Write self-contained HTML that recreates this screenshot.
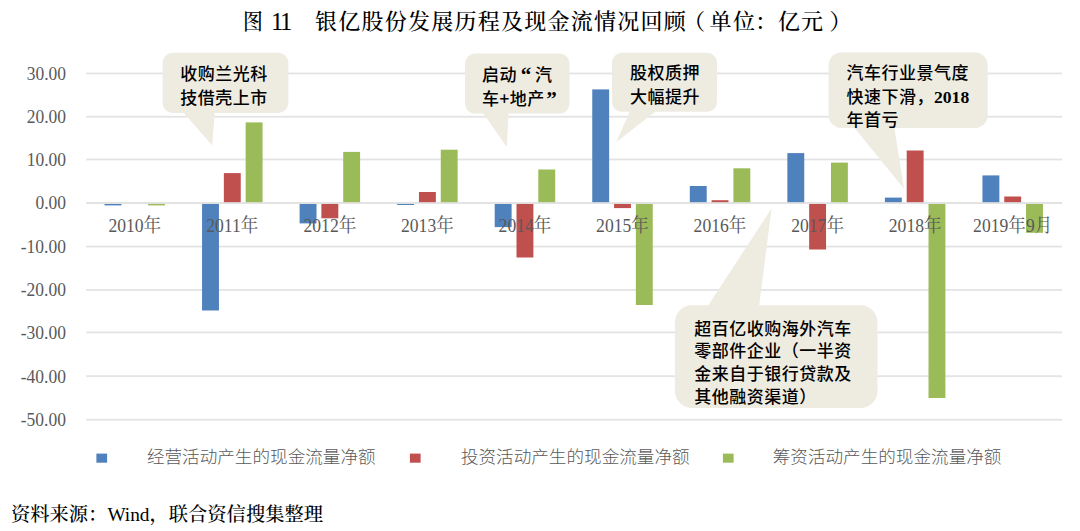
<!DOCTYPE html>
<html><head><meta charset="utf-8"><title>银亿股份发展历程及现金流情况回顾</title>
<style>
html,body{margin:0;padding:0;background:#fff;}
body{width:1080px;height:531px;overflow:hidden;position:relative;}
.t{position:absolute;white-space:nowrap;line-height:1;}
.serif{font-family:"Liberation Serif","Noto Serif CJK SC",serif;}
.title{font-family:"Liberation Serif","Noto Serif CJK SC",serif;font-size:22px;color:#000;font-weight:500;}
.yl{font-family:"Liberation Serif","Noto Serif CJK SC",serif;font-size:17.5px;color:#595959;text-align:right;width:60px;transform:scaleY(1.07);transform-origin:50% 50%;}
.xl{font-family:"Liberation Serif","Noto Serif CJK SC",serif;font-size:17.6px;color:#595959;text-align:center;width:100px;transform:scaleY(1.07);transform-origin:50% 50%;}
.lg{font-family:"Noto Sans CJK SC",sans-serif;font-weight:300;font-size:17.6px;color:#595959;}
.co{font-family:"Noto Sans CJK SC",sans-serif;font-weight:500;font-size:17px;letter-spacing:0.5px;color:#000;}
.co .q{font-family:"Liberation Serif",serif;font-weight:bold;font-size:21px;display:inline-block;width:17.9px;text-align:center;letter-spacing:0;vertical-align:top;line-height:1;}
.co .n{font-family:"Liberation Serif",serif;letter-spacing:0;font-size:17.6px;font-weight:bold;position:relative;top:0.5px;}
.src{font-family:"Liberation Serif","Noto Serif CJK SC",serif;font-size:19.3px;color:#000;font-weight:500;}
</style></head><body>

<svg width="1080" height="531" style="position:absolute;left:0;top:0">
<rect x="86.20" y="72.56" width="975.90" height="1.8" fill="#e3e3e3"/>
<rect x="86.20" y="115.85" width="975.90" height="1.8" fill="#e3e3e3"/>
<rect x="86.20" y="158.59" width="975.90" height="1.8" fill="#e3e3e3"/>
<rect x="86.20" y="202.17" width="975.90" height="1.8" fill="#e3e3e3"/>
<rect x="86.20" y="245.65" width="975.90" height="1.8" fill="#e3e3e3"/>
<rect x="86.20" y="289.00" width="975.90" height="1.8" fill="#e3e3e3"/>
<rect x="86.20" y="331.50" width="975.90" height="1.8" fill="#e3e3e3"/>
<rect x="86.20" y="375.30" width="975.90" height="1.8" fill="#e3e3e3"/>
<rect x="86.20" y="418.80" width="975.90" height="1.8" fill="#e3e3e3"/>
<rect x="104.50" y="203.40" width="16.90" height="2.00" fill="#4F81BD"/>
<rect x="148.10" y="203.40" width="16.90" height="2.00" fill="#9BBB59"/>
<rect x="202.05" y="203.10" width="16.90" height="107.40" fill="#4F81BD"/>
<rect x="223.85" y="173.10" width="16.90" height="30.00" fill="#C0504D"/>
<rect x="245.65" y="122.40" width="16.90" height="80.70" fill="#9BBB59"/>
<rect x="299.60" y="203.10" width="16.90" height="20.30" fill="#4F81BD"/>
<rect x="321.40" y="203.10" width="16.90" height="15.20" fill="#C0504D"/>
<rect x="343.20" y="151.90" width="16.90" height="51.20" fill="#9BBB59"/>
<rect x="397.15" y="203.10" width="16.90" height="1.90" fill="#4F81BD"/>
<rect x="418.95" y="192.00" width="16.90" height="11.10" fill="#C0504D"/>
<rect x="440.75" y="149.70" width="16.90" height="53.40" fill="#9BBB59"/>
<rect x="494.70" y="203.10" width="16.90" height="24.00" fill="#4F81BD"/>
<rect x="516.50" y="203.10" width="16.90" height="54.40" fill="#C0504D"/>
<rect x="538.30" y="169.50" width="16.90" height="33.60" fill="#9BBB59"/>
<rect x="592.25" y="89.40" width="16.90" height="113.70" fill="#4F81BD"/>
<rect x="614.05" y="203.10" width="16.90" height="5.00" fill="#C0504D"/>
<rect x="635.85" y="203.10" width="16.90" height="101.90" fill="#9BBB59"/>
<rect x="689.80" y="186.00" width="16.90" height="17.10" fill="#4F81BD"/>
<rect x="711.60" y="200.20" width="16.90" height="2.90" fill="#C0504D"/>
<rect x="733.40" y="168.30" width="16.90" height="34.80" fill="#9BBB59"/>
<rect x="787.35" y="153.10" width="16.90" height="50.00" fill="#4F81BD"/>
<rect x="809.15" y="203.10" width="16.90" height="46.40" fill="#C0504D"/>
<rect x="830.95" y="162.60" width="16.90" height="40.50" fill="#9BBB59"/>
<rect x="884.90" y="197.60" width="16.90" height="5.50" fill="#4F81BD"/>
<rect x="906.70" y="150.50" width="16.90" height="52.60" fill="#C0504D"/>
<rect x="928.50" y="203.10" width="16.90" height="194.90" fill="#9BBB59"/>
<rect x="982.45" y="175.40" width="16.90" height="27.70" fill="#4F81BD"/>
<rect x="1004.25" y="196.50" width="16.90" height="6.60" fill="#C0504D"/>
<rect x="1026.05" y="203.10" width="16.90" height="29.70" fill="#9BBB59"/>
<path d="M172.63,52.70 L278.37,52.70 A10.033333333333333,10.033333333333333 0 0 1 288.40,62.73 L288.40,102.87 A10.033333333333333,10.033333333333333 0 0 1 278.37,112.90 L214.70,112.90 L212.20,145.60 L183.80,112.90 L172.63,112.90 A10.033333333333333,10.033333333333333 0 0 1 162.60,102.87 L162.60,62.73 A10.033333333333333,10.033333333333333 0 0 1 172.63,52.70 Z" fill="#EEECE1"/>
<path d="M475.02,53.50 L559.58,53.50 A10.016666666666666,10.016666666666666 0 0 1 569.60,63.52 L569.60,103.58 A10.016666666666666,10.016666666666666 0 0 1 559.58,113.60 L508.60,113.60 L506.80,147.30 L483.50,113.60 L475.02,113.60 A10.016666666666666,10.016666666666666 0 0 1 465.00,103.58 L465.00,63.52 A10.016666666666666,10.016666666666666 0 0 1 475.02,53.50 Z" fill="#EEECE1"/>
<path d="M621.83,52.80 L707.17,52.80 A9.833333333333334,9.833333333333334 0 0 1 717.00,62.63 L717.00,101.97 A9.833333333333334,9.833333333333334 0 0 1 707.17,111.80 L655.20,111.80 L616.10,142.20 L629.80,111.80 L621.83,111.80 A9.833333333333334,9.833333333333334 0 0 1 612.00,101.97 L612.00,62.63 A9.833333333333334,9.833333333333334 0 0 1 621.83,52.80 Z" fill="#EEECE1"/>
<path d="M841.17,52.60 L975.13,52.60 A12.566666666666668,12.566666666666668 0 0 1 987.70,65.17 L987.70,115.43 A12.566666666666668,12.566666666666668 0 0 1 975.13,128.00 L894.40,128.00 L904.00,188.80 L854.60,128.00 L841.17,128.00 A12.566666666666668,12.566666666666668 0 0 1 828.60,115.43 L828.60,65.17 A12.566666666666668,12.566666666666668 0 0 1 841.17,52.60 Z" fill="#EEECE1"/>
<path d="M692.02,305.30 L708.30,305.30 L771.60,208.30 L759.20,305.30 L860.38,305.30 A17.116666666666664,17.116666666666664 0 0 1 877.50,322.42 L877.50,390.88 A17.116666666666664,17.116666666666664 0 0 1 860.38,408.00 L692.02,408.00 A17.116666666666664,17.116666666666664 0 0 1 674.90,390.88 L674.90,322.42 A17.116666666666664,17.116666666666664 0 0 1 692.02,305.30 Z" fill="#EEECE1"/>
<rect x="86.20" y="202.17" width="975.90" height="1.8" fill="#e3e3e3"/>
<rect x="96.4" y="453.6" width="10.7" height="9.1" fill="#4F81BD"/>
<rect x="409.9" y="453.6" width="10.7" height="9.1" fill="#C0504D"/>
<rect x="722.9" y="453.6" width="10.7" height="9.1" fill="#9BBB59"/>
</svg>
<div class="t title" style="left:242.5px;top:11px;transform:scaleX(0.9);transform-origin:0 0">图</div>
<div class="t title" style="left:271px;top:9.5px;font-size:24.5px;letter-spacing:-2.4px;font-weight:400">11</div>
<div class="t title" style="left:315px;top:11px;letter-spacing:1.25px">银亿股份发展历程及现金流情况回顾</div>
<div class="t title" style="left:683px;top:11px">（</div>
<div class="t title" style="left:709.5px;top:11px">单</div>
<div class="t title" style="left:733px;top:11px">位</div>
<div class="t title" style="left:755px;top:11px">：</div>
<div class="t title" style="left:778px;top:11px">亿</div>
<div class="t title" style="left:801px;top:11px">元</div>
<div class="t title" style="left:829.5px;top:11px">）</div>
<div class="t yl" style="left:6px;top:65.8px">30.00</div>
<div class="t yl" style="left:6px;top:109.0px">20.00</div>
<div class="t yl" style="left:6px;top:151.8px">10.00</div>
<div class="t yl" style="left:6px;top:195.4px">0.00</div>
<div class="t yl" style="left:6px;top:238.9px">-10.00</div>
<div class="t yl" style="left:6px;top:282.2px">-20.00</div>
<div class="t yl" style="left:6px;top:324.7px">-30.00</div>
<div class="t yl" style="left:6px;top:368.5px">-40.00</div>
<div class="t yl" style="left:6px;top:412.0px">-50.00</div>
<div class="t xl" style="left:84.8px;top:218.2px">2010年</div>
<div class="t xl" style="left:182.3px;top:218.2px">2011年</div>
<div class="t xl" style="left:279.9px;top:218.2px">2012年</div>
<div class="t xl" style="left:377.4px;top:218.2px">2013年</div>
<div class="t xl" style="left:475.0px;top:218.2px">2014年</div>
<div class="t xl" style="left:572.5px;top:218.2px">2015年</div>
<div class="t xl" style="left:670.0px;top:218.2px">2016年</div>
<div class="t xl" style="left:767.6px;top:218.2px">2017年</div>
<div class="t xl" style="left:865.2px;top:218.2px">2018年</div>
<div class="t xl" style="left:962.7px;top:218.2px">2019年9月</div>
<div class="t co" style="left:180.2px;top:63.7px">收购兰光科</div>
<div class="t co" style="left:180.2px;top:87.5px">技借壳上市</div>
<div class="t co" style="left:482.0px;top:64.8px">启动<span class="q">“</span>汽</div>
<div class="t co" style="left:482.0px;top:88.6px">车+地产<span class="q" style="text-align:left;margin-left:1.5px">”</span></div>
<div class="t co" style="left:630.0px;top:62.7px">股权质押</div>
<div class="t co" style="left:630.0px;top:86.5px">大幅提升</div>
<div class="t co" style="left:846.5px;top:63.3px">汽车行业景气度</div>
<div class="t co" style="left:846.5px;top:86.7px">快速下滑，<span class="n">2018</span></div>
<div class="t co" style="left:846.5px;top:110.1px">年首亏</div>
<div class="t co" style="left:694.2px;top:318.6px">超百亿收购海外汽车</div>
<div class="t co" style="left:694.2px;top:341.4px">零部件企业（一半资</div>
<div class="t co" style="left:694.2px;top:364.2px">金来自于银行贷款及</div>
<div class="t co" style="left:694.2px;top:387.0px">其他融资渠道）</div>
<div class="t lg" style="left:146.9px;top:447px">经营活动产生的现金流量净额</div>
<div class="t lg" style="left:460.9px;top:447px">投资活动产生的现金流量净额</div>
<div class="t lg" style="left:772.7px;top:447px">筹资活动产生的现金流量净额</div>
<div class="t src" style="left:11px;top:504.5px">资料来源：Wind，联合资信搜集整理</div>
</body></html>
